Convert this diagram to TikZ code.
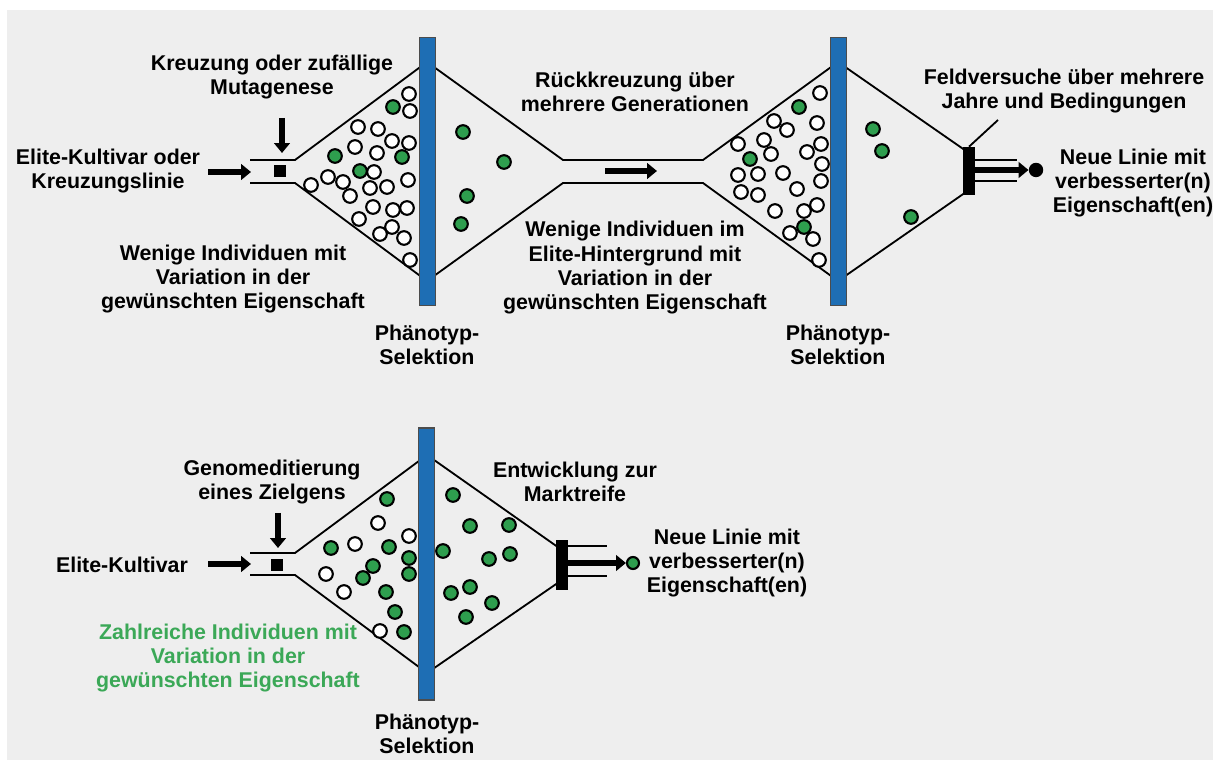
\documentclass[tikz,border=0pt]{standalone}
\usepackage{fontspec}
\setmainfont{Liberation Sans}
\usetikzlibrary{arrows.meta,positioning}
\definecolor{selblue}{HTML}{1E6EB4}
\definecolor{dotgreen}{HTML}{2E9E4E}
\definecolor{txtgreen}{HTML}{3BA857}
\definecolor{bggray}{HTML}{EEEEEE}
\tikzset{
  lbl/.style={font=\fontsize{15.2}{17.3}\selectfont\bfseries,align=center,inner sep=0pt},
  wdot/.style={circle,draw,fill=white,line width=1.5pt,minimum size=0.34cm,inner sep=0pt},
  gdot/.style={wdot,fill=dotgreen},
  funnel/.style={line width=1.3pt},
  selbar/.style={draw=black!70,fill=selblue,line width=0.8pt,minimum width=0.4cm,inner sep=0pt},
  stopbar/.style={fill=black,minimum width=0.3cm,inner sep=0pt},
  fatarrow/.style={line width=4.2pt,-{Triangle[length=7pt,width=11pt]}},
  tubebox/.style={fill=black,minimum size=0.32cm,inner sep=0pt},
}
\begin{document}
\begin{tikzpicture}[x=0.025cm,y=-0.025cm]
\useasboundingbox (0,0) rectangle (1213,760);
\fill[bggray] (7,10) rectangle (1213,760);
% upper row: funnel lines
\draw[funnel] (250,160) -- (295,160) -- (427,62);
\draw[funnel] (250,183) -- (295,183) -- (427,281);
\draw[funnel] (427,62) -- (563,160) -- (703,160) -- (838,62);
\draw[funnel] (427,281) -- (563,183) -- (703,183) -- (838,281);
\draw[funnel] (838,62) -- (969,153);
\draw[funnel] (838,281) -- (969,190);
% selection bars
\node[selbar,minimum height=6.7cm] (bar1) at (427.5,171.5) {};
\node[selbar,minimum height=6.7cm] (bar2) at (838.5,171.5) {};
\node[stopbar,minimum height=1.2cm] (stop1) at (969,171) {};
% entry
\node[tubebox] (box1) at (280,171) {};
\coordinate (in1) at (208,172);
\coordinate (tube1) at (251,172);
\draw[fatarrow] (in1) -- (tube1);
\coordinate (down1a) at (282,118);
\coordinate (down1b) at (282,153);
\draw[fatarrow] (down1a) -- (down1b);
\coordinate (mid1) at (605,171);
\coordinate (mid2) at (657,171);
\draw[fatarrow] (mid1) -- (mid2);
% exit
\node[circle,fill=black,minimum size=0.36cm,inner sep=0pt] (out1) at (1036,170) {};
\draw[funnel] (stop1.east |- 0,160) -- (1017,160);
\draw[funnel] (stop1.east |- 0,181) -- (1017,181);
\draw[fatarrow] (stop1.east |- out1) -- (out1.west);
% dots
\foreach \p [count=\i] in {(409,94),(410,111),(358,127),(378,129),(392,141),(409,143),(355,147),(377,153),(374,172),(408,180),(328,177),(343,182),(311,185),(350,196),(370,188),(387,187),(373,207),(393,210),(407,208),(359,219),(392,227),(380,234),(404,238),(410,260)}
  \node[wdot] (wa\i) at \p {};
\foreach \p [count=\i] in {(393,107),(335,156),(360,171),(402,157),(463,132),(504,162),(467,196),(461,224)}
  \node[gdot] (ga\i) at \p {};
\foreach \p [count=\i] in {(820,93),(774,121),(787,130),(817,123),(738,144),(764,140),(771,154),(807,152),(821,144),(822,164),(738,175),(758,174),(783,173),(821,181),(741,192),(758,195),(797,189),(775,211),(804,211),(817,205),(790,233),(813,239),(819,260)}
  \node[wdot] (wb\i) at \p {};
\foreach \p [count=\i] in {(799,107),(750,159),(804,227),(873,129),(882,151),(911,217)}
  \node[gdot] (gb\i) at \p {};
% labels upper row
\node[lbl] (kreuz) at (272,77) {Kreuzung oder zufällige\\Mutagenese};
\node[lbl] (elite1) at (108,171) {Elite-Kultivar oder\\Kreuzungslinie};
\node[lbl] (few1) at (233,279) {Wenige Individuen mit\\Variation in der\\gewünschten Eigenschaft};
\node[lbl] (pheno1) at (427,345) {Phänotyp-\\Selektion};
\node[lbl] (rueck) at (635,92) {Rückkreuzung über\\mehrere Generationen};
\node[lbl] (few2) at (635,268) {Wenige Individuen im\\Elite-Hintergrund mit\\Variation in der\\gewünschten Eigenschaft};
\node[lbl] (pheno2) at (838,345) {Phänotyp-\\Selektion};
\node[lbl] (feld) at (1064,91) {Feldversuche über mehrere\\Jahre und Bedingungen};
\node[lbl] (new1) at (1133,183) {Neue Linie mit\\verbesserter(n)\\Eigenschaft(en)};
\coordinate (feldtip) at (998,120);
\draw[funnel] (feldtip) -- (stop1.north);
% lower row: funnel lines
\draw[funnel] (250,553) -- (295,553) -- (427,455);
\draw[funnel] (250,575) -- (295,575) -- (427,673);
\draw[funnel] (427,455) -- (562,550);
\draw[funnel] (427,673) -- (562,580);
\node[selbar,minimum height=6.8cm] (bar3) at (426.5,564) {};
\node[stopbar,minimum height=1.25cm] (stop2) at (562,565) {};
\node[tubebox] (box2) at (277,565) {};
\coordinate (in2) at (208,564);
\coordinate (tube2) at (251,564);
\draw[fatarrow] (in2) -- (tube2);
\coordinate (down2a) at (278,513);
\coordinate (down2b) at (278,548);
\draw[fatarrow] (down2a) -- (down2b);
\node[gdot,minimum size=0.3cm] (out2) at (633,563) {};
\draw[funnel] (stop2.east |- 0,546) -- (607,546);
\draw[funnel] (stop2.east |- 0,576) -- (607,576);
\draw[fatarrow] (stop2.east |- out2) -- (out2.west);
\foreach \p [count=\i] in {(387,499),(331,548),(389,547),(373,566),(409,558),(363,578),(409,574),(386,592),(395,612),(404,632),(453,495),(470,526),(509,525),(443,551),(489,559),(510,554),(451,593),(470,587),(492,603),(466,617)}
  \node[gdot] (gc\i) at \p {};
\foreach \p [count=\i] in {(378,523),(355,544),(409,536),(326,574),(344,592),(380,631)}
  \node[wdot] (wc\i) at \p {};
% labels lower row
\node[lbl] (genom) at (272,482) {Genomeditierung\\eines Zielgens};
\node[lbl] (elite2) at (122,565) {Elite-Kultivar};
\node[lbl] (entw) at (575,482) {Entwicklung zur\\Marktreife};
\node[lbl] (new2) at (727,563) {Neue Linie mit\\verbesserter(n)\\Eigenschaft(en)};
\node[lbl,text=txtgreen] (many) at (228,658) {Zahlreiche Individuen mit\\Variation in der\\gewünschten Eigenschaft};
\node[lbl] (pheno3) at (427,734) {Phänotyp-\\Selektion};
\end{tikzpicture}
\end{document}
